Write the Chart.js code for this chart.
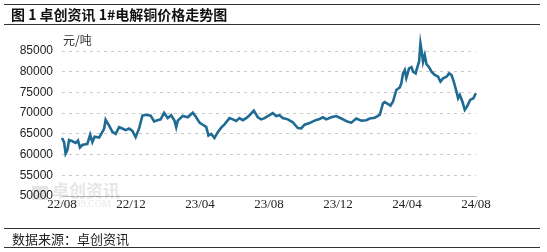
<!DOCTYPE html>
<html>
<head>
<meta charset="utf-8">
<script src="https://cdn.jsdelivr.net/npm/chart.js@4"></script>
<style>
    html, body { margin: 0; padding: 0; background: #fff; }
    #wrap { position: relative; width: 547px; height: 252px; overflow: hidden; font-family: 'Noto Sans CJK SC', sans-serif; }
    #chart { position: absolute; left: 0; top: 0; }
    .rule { position: absolute; left: 4px; width: 536px; height: 0; border-top: 1.5px solid #333; }
    #title { position: absolute; left: 11px; top: 4px; font-size: 14px; font-weight: bold; color: #111; white-space: nowrap; }
    #unit { position: absolute; left: 63px; top: 31px; font-size: 12px; color: #333; }
    #source { position: absolute; left: 12px; top: 229px; font-size: 13px; color: #222; }
</style>
</head>
<body>
<div id="wrap">
    <canvas id="chart" width="547" height="252"></canvas>
    <div class="rule" style="top:4px"></div>
    <div id="title">图 1 卓创资讯 1#电解铜价格走势图</div>
    <div class="rule" style="top:24px"></div>
    <div id="unit">元/吨</div>
    <div class="rule" style="top:228px"></div>
    <div id="source">数据来源：卓创资讯</div>
    <div class="rule" style="top:247px"></div>
</div>
<script>
// months since 2022-08
const monthPos = [
    0, 0.12, 0.21, 0.31, 0.41, 0.60, 0.79, 0.93, 1.04, 1.18, 1.47, 1.63, 1.76, 1.89, 2.15, 2.30, 2.44, 2.53, 2.73, 2.92,
    3.11, 3.31, 3.50, 3.69, 3.89, 4.08, 4.27, 4.47, 4.66, 4.85, 5.14, 5.34, 5.53, 5.72, 5.92, 6.13, 6.33, 6.52, 6.62, 6.71,
    7.00, 7.29, 7.58, 7.78, 7.97, 8.16, 8.36, 8.49, 8.65, 8.84, 9.03, 9.23, 9.42, 9.71, 9.90, 10.10, 10.29, 10.48, 10.68, 10.87,
    11.12, 11.35, 11.55, 11.74, 12.03, 12.22, 12.42, 12.61, 12.80, 13.09, 13.38, 13.67, 13.87, 14.06, 14.35, 14.64, 14.93, 15.12, 15.32, 15.61,
    15.90, 16.19, 16.58, 16.77, 17.06, 17.35, 17.64, 17.84, 18.13, 18.42, 18.61, 18.71, 18.90, 19.04, 19.19, 19.38, 19.58, 19.67, 19.77, 19.87,
    19.96, 20.12, 20.26, 20.35, 20.50, 20.60, 20.70, 20.78, 20.87, 20.93, 21.03, 21.13, 21.28, 21.42, 21.61, 21.80, 21.94, 22.09, 22.29, 22.44,
    22.58, 22.71, 22.87, 22.96, 23.06, 23.21, 23.35, 23.48, 23.66, 23.85, 23.99
];

const copperPrice = [
    64000, 63000, 60200, 61000, 63500, 63200, 62800, 63400, 61700, 62300, 62600, 64800, 63000, 64300, 64100, 65200, 66200, 68400, 67000, 65500,
    65000, 66600, 66300, 65900, 66300, 65700, 64200, 66300, 69400, 69600, 69400, 68000, 68300, 68500, 70100, 68800, 69500, 68200, 66600, 68200,
    69300, 69000, 70100, 69000, 67700, 67200, 66700, 64600, 65000, 64000, 65400, 66500, 67300, 68800, 68500, 68100, 68800, 68300, 68800, 69500,
    70600, 69000, 68500, 68800, 69500, 70000, 69300, 69500, 68800, 68500, 67800, 66400, 66300, 67200, 67600, 68200, 68600, 69000, 68500, 69000,
    69300, 68700, 67900, 67700, 68700, 68200, 68300, 68700, 68900, 69600, 72400, 72700, 72200, 71800, 72800, 75600, 76200, 77200, 79600, 80400,
    78500, 80800, 81100, 80000, 79600, 81100, 82400, 86800, 84400, 82400, 84000, 81800, 81100, 80000, 79200, 78800, 77600, 78400, 78800, 79600,
    79200, 77600, 75200, 73600, 74400, 72800, 70800, 71600, 73200, 73600, 74800
];

const tickLabels = ['22/08', '22/12', '23/04', '23/08', '23/12', '24/04', '24/08'];

// faint watermark behind the plot
const watermark = {
    id: 'watermark',
    beforeDatasetsDraw(chart) {
        const ctx = chart.ctx;
        ctx.save();
        ctx.fillStyle = 'rgba(0,0,0,0.10)';
        ctx.fillRect(32, 186, 16, 14);
        ctx.font = "bold 17px 'Noto Sans CJK SC'";
        ctx.textBaseline = 'middle';
        ctx.fillText('卓创资讯', 52, 191);
        ctx.font = "10px 'Liberation Serif'";
        ctx.fillText('SCI99.COM', 60, 204);
        ctx.restore();
    }
};

new Chart(document.getElementById('chart'), {
    type: 'line',
    data: {
        datasets: [{
            data: monthPos.map((m, i) => ({ x: m, y: copperPrice[i] })),
            borderColor: '#1f6b93',
            borderWidth: 2.6,
            pointRadius: 0,
            tension: 0,
            fill: false,
            clip: false
        }]
    },
    options: {
        responsive: false,
        animation: false,
        layout: { padding: { top: 51, right: 71, left: 0, bottom: 0 } },
        plugins: {
            legend: { display: false },
            tooltip: { enabled: false }
        },
        scales: {
            x: {
                type: 'linear',
                min: 0,
                max: 24,
                afterFit: s => { s.height = 56; },
                ticks: {
                    stepSize: 4,
                    padding: -7,
                    color: '#222',
                    font: { family: "'Liberation Serif'", size: 13 },
                    callback: v => tickLabels[v / 4] ?? ''
                },
                grid: { display: false },
                border: { display: true, color: '#b5b5b5', width: 1 }
            },
            y: {
                min: 50000,
                max: 85000,
                afterFit: s => { s.width = 62; },
                ticks: {
                    stepSize: 5000,
                    padding: 9,
                    color: '#222',
                    font: { family: "'Liberation Sans'", size: 12 },
                    callback: v => String(v)
                },
                grid: {
                    drawTicks: false,
                    color: c => c.tick && c.tick.value === 50000 ? 'rgba(0,0,0,0)' : '#c8c8c8'
                },
                border: { display: false, dash: [3, 4] }
            }
        }
    },
    plugins: [watermark]
});
</script>
</body>
</html>
